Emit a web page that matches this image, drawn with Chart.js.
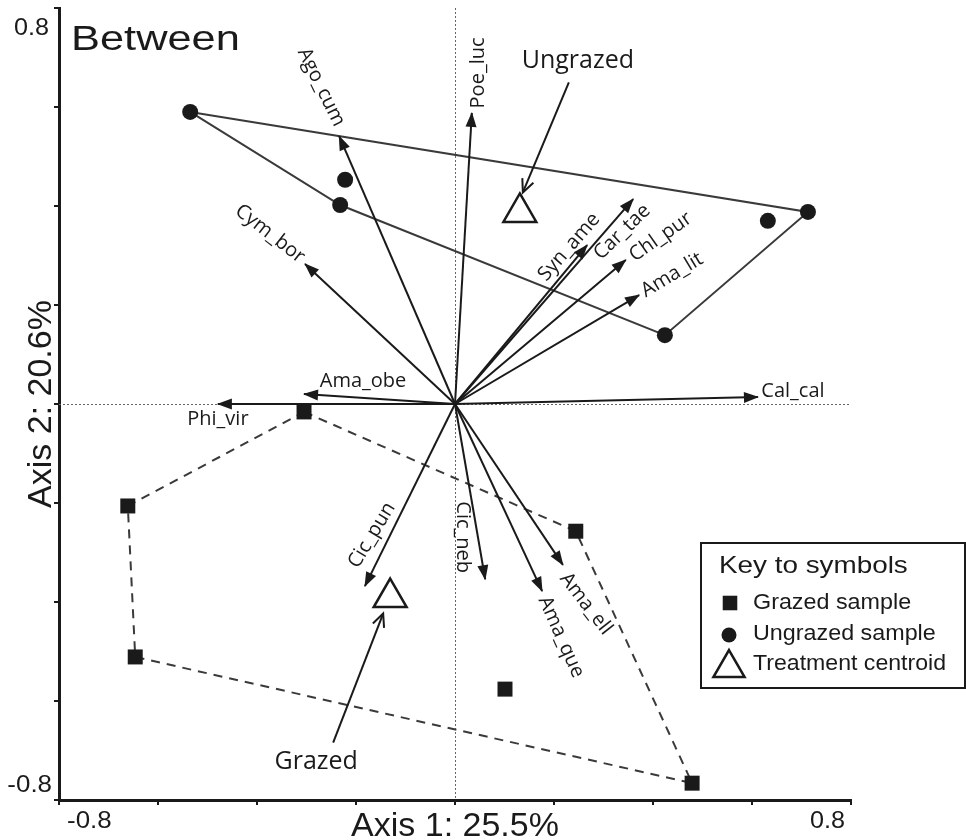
<!DOCTYPE html>
<html><head><meta charset="utf-8">
<script src="https://cdn.jsdelivr.net/npm/chart.js@4.4.1/dist/chart.umd.min.js"></script>
<style>html,body{margin:0;padding:0;background:#fff;}canvas{display:block;}</style>
</head><body>
<canvas id="c" width="966" height="840"></canvas>
<script>
// ---------------- data ----------------
const grazedX = [-0.305, -0.661, -0.646, 0.244, 0.101, 0.479];
const grazedY = [-0.016, -0.206, -0.511, -0.257, -0.576, -0.766];
const grazedHull = [0, 3, 5, 2, 1, 0];

const ungrazedX = [-0.535, -0.222, -0.232, 0.424, 0.713, 0.632];
const ungrazedY = [0.590, 0.453, 0.402, 0.139, 0.388, 0.370];
const ungrazedHull = [0, 4, 3, 2, 0];

const centroidNames = ['Ungrazed', 'Grazed'];
const centroidX = [0.131, -0.131];
const centroidY = [0.387, -0.391];

const species = ['Poe_luc','Ago_cum','Cym_bor','Syn_ame','Car_tae','Chl_pur','Ama_lit','Cal_cal','Ama_obe','Phi_vir','Cic_pun','Cic_neb','Ama_que','Ama_ell'];
const speciesX = [0.034, -0.234, -0.303, 0.267, 0.360, 0.345, 0.372, 0.612, -0.305, -0.479, -0.182, 0.061, 0.176, 0.218];
const speciesY = [0.588, 0.541, 0.283, 0.321, 0.414, 0.291, 0.220, 0.014, 0.020, 0.000, -0.368, -0.354, -0.378, -0.325];

const axisMin = -0.8, axisMax = 0.8, axisStep = 0.2;
const tickLabels = ['-0.8', '0.8'];
const xTitle = 'Axis 1: 25.5%';
const yTitle = 'Axis 2: 20.6%';
const panelTitle = 'Between';
const legendTitle = 'Key to symbols';
const legendItems = ['Grazed sample', 'Ungrazed sample', 'Treatment centroid'];

// ---------------- layout / style (pixels) ----------------
const AREA = {left: 59, top: 8, right: 851, bottom: 800};
const labelLayout = {
  Poe_luc:{dx:6,dy:-40,rot:-90}, Ago_cum:{dx:-18,dy:-49,rot:64}, Cym_bor:{dx:-35,dy:-30,rot:38},
  Syn_ame:{dx:-18,dy:2,rot:-49}, Car_tae:{dx:-11,dy:33,rot:-44}, Chl_pur:{dx:35,dy:-23,rot:-35},
  Ama_lit:{dx:33,dy:-20,rot:-31}, Cal_cal:{dx:35,dy:-6,rot:0}, Ama_obe:{dx:59,dy:-13,rot:0},
  Phi_vir:{dx:0,dy:15,rot:0}, Cic_pun:{dx:7,dy:-51,rot:-59}, Cic_neb:{dx:-22,dy:-42,rot:90},
  Ama_que:{dx:19,dy:46,rot:66}, Ama_ell:{dx:23,dy:39,rot:52}
};
const pointerLayout = [
  {tip:[3,-20], tail:[49,-130], text:[58,-152]},
  {tip:[-7,16], tail:[-57,145], text:[-74,164]}
];
const INK = '#1a1a1a';
const SANS = '"Liberation Sans", Arial, sans-serif';
const MYR = '"Open Sans", "Noto Sans", sans-serif';

function txt(ctx, s, x, y, font, o) {
  o = o || {};
  ctx.save();
  ctx.translate(x, y);
  if (o.rot) ctx.rotate(o.rot * Math.PI / 180);
  ctx.scale(o.sx || 1, 1);
  ctx.font = font;
  ctx.fillStyle = INK;
  ctx.textAlign = o.align || 'left';
  ctx.textBaseline = o.base || 'alphabetic';
  ctx.fillText(s, 0, 0);
  ctx.restore();
}

const pts = (xs, ys, idx) => (idx || xs.map((_, i) => i)).map(i => ({x: xs[i], y: ys[i]}));

const datasets = [];
datasets.push({label: 'Grazed sample', data: pts(grazedX, grazedY), showLine: false,
  pointStyle: 'rect', pointRadius: 10.6, backgroundColor: INK, borderColor: INK, borderWidth: 0, order: 0});
datasets.push({label: 'Ungrazed sample', data: pts(ungrazedX, ungrazedY), showLine: false,
  pointStyle: 'circle', pointRadius: 8, backgroundColor: INK, borderColor: INK, borderWidth: 0, order: 0});
datasets.push({label: 'Treatment centroid', data: pts(centroidX, centroidY), showLine: false,
  pointStyle: 'triangle', pointRadius: 19, backgroundColor: '#fff', borderColor: INK, borderWidth: 2.5, order: 0});
species.forEach((s, i) => {
  datasets.push({label: s, data: [{x: 0, y: 0}, {x: speciesX[i], y: speciesY[i]}], showLine: true,
    pointRadius: 0, borderColor: INK, borderWidth: 2, fill: false, order: 1, isArrow: true});
});
datasets.push({label: 'Ungrazed hull', data: pts(ungrazedX, ungrazedY, ungrazedHull), showLine: true,
  pointRadius: 0, borderColor: '#3a3a3a', borderWidth: 2, fill: false, order: 2});
datasets.push({label: 'Grazed hull', data: pts(grazedX, grazedY, grazedHull), showLine: true,
  pointRadius: 0, borderColor: '#3a3a3a', borderWidth: 2, borderDash: [9, 7], fill: false, order: 2});

const decor = {
  id: 'decor',
  beforeDatasetsDraw(chart) {
    const ctx = chart.ctx, xs = chart.scales.x, ys = chart.scales.y, a = chart.chartArea;
    ctx.save();
    ctx.strokeStyle = '#666'; ctx.lineWidth = 1; ctx.setLineDash([2, 2]);
    const x0 = Math.round(xs.getPixelForValue(0)) + 0.5, y0 = Math.round(ys.getPixelForValue(0)) + 0.5;
    ctx.beginPath(); ctx.moveTo(x0, a.top); ctx.lineTo(x0, a.bottom); ctx.stroke();
    ctx.beginPath(); ctx.moveTo(a.left, y0); ctx.lineTo(a.right, y0); ctx.stroke();
    ctx.restore();
  },
  afterDatasetsDraw(chart) {
    const ctx = chart.ctx;
    chart.data.datasets.forEach((d, i) => {
      if (!d.isArrow) return;
      const m = chart.getDatasetMeta(i);
      const p0 = m.data[0], p1 = m.data[1];
      const ang = Math.atan2(p1.y - p0.y, p1.x - p0.x);
      ctx.save();
      ctx.translate(p1.x, p1.y); ctx.rotate(ang);
      ctx.fillStyle = INK;
      ctx.beginPath(); ctx.moveTo(1, 0); ctx.lineTo(-14, -5.5); ctx.lineTo(-14, 5.5); ctx.closePath(); ctx.fill();
      ctx.restore();
      const L = labelLayout[d.label];
      txt(ctx, d.label, p1.x + L.dx, p1.y + L.dy, '20px ' + MYR, {align: 'center', base: 'middle', rot: L.rot});
    });
    const cm = chart.getDatasetMeta(2);
    centroidNames.forEach((n, i) => {
      const c = cm.data[i], P = pointerLayout[i];
      const tx = c.x + P.tip[0], ty = c.y + P.tip[1], sx = c.x + P.tail[0], sy = c.y + P.tail[1];
      ctx.save();
      ctx.strokeStyle = INK; ctx.lineWidth = 2;
      ctx.beginPath(); ctx.moveTo(sx, sy); ctx.lineTo(tx, ty); ctx.stroke();
      const ang = Math.atan2(ty - sy, tx - sx);
      ctx.translate(tx, ty); ctx.rotate(ang);
      ctx.beginPath(); ctx.moveTo(-13, -6); ctx.lineTo(0, 0); ctx.lineTo(-13, 6); ctx.stroke();
      ctx.restore();
      txt(ctx, n, c.x + P.text[0], c.y + P.text[1], '25px ' + MYR, {align: 'center', base: 'middle'});
    });
  },
  afterDraw(chart) {
    const ctx = chart.ctx, xs = chart.scales.x, ys = chart.scales.y, a = chart.chartArea;
    txt(ctx, panelTitle, a.left + 12, a.top + 42, '35px ' + SANS, {sx: 1.24});
    const tf = '24px ' + SANS;
    txt(ctx, tickLabels[1], a.left - 10, ys.getPixelForValue(axisMax) + 27, tf, {align: 'right', sx: 1.05});
    txt(ctx, tickLabels[0], a.left - 7, ys.getPixelForValue(axisMin) - 8, tf, {align: 'right', sx: 1.08});
    txt(ctx, tickLabels[0], xs.getPixelForValue(axisMin) + 8, a.bottom + 28, tf, {align: 'left', sx: 1.08});
    txt(ctx, tickLabels[1], xs.getPixelForValue(axisMax) - 6, a.bottom + 28, tf, {align: 'right', sx: 1.05});
    txt(ctx, xTitle, (a.left + a.right) / 2, a.bottom + 36, '34px ' + SANS, {align: 'center'});
    txt(ctx, yTitle, a.left - 8, (a.top + a.bottom) / 2, '34px ' + SANS, {align: 'center', rot: -90});
    ctx.save();
    ctx.strokeStyle = INK; ctx.lineWidth = 2;
    ctx.strokeRect(701, 543, 264, 145);
    ctx.restore();
    txt(ctx, legendTitle, 719, 573, '24px ' + SANS, {sx: 1.16});
    const H = Chart.helpers;
    ctx.save();
    ctx.fillStyle = INK; ctx.strokeStyle = INK;
    H.drawPoint(ctx, {pointStyle: 'rect', radius: 10.3, borderWidth: 0}, 730, 603);
    ctx.restore();
    ctx.save();
    ctx.fillStyle = INK;
    ctx.beginPath(); ctx.arc(729, 635, 7.5, 0, Math.PI * 2); ctx.fill();
    ctx.restore();
    ctx.save();
    ctx.fillStyle = '#fff'; ctx.strokeStyle = INK; ctx.lineWidth = 2.5;
    H.drawPoint(ctx, {pointStyle: 'triangle', radius: 18, borderWidth: 2.5}, 729, 668);
    ctx.restore();
    const lf = '22px ' + SANS;
    txt(ctx, legendItems[0], 753, 609, lf, {sx: 1.06});
    txt(ctx, legendItems[1], 753, 640, lf, {sx: 1.06});
    txt(ctx, legendItems[2], 753, 670, lf, {sx: 1.05});
  }
};

const zeroPad = s => { s.paddingTop = 0; s.paddingBottom = 0; s.paddingLeft = 0; s.paddingRight = 0; };
const axisCommon = {
  type: 'linear', min: axisMin, max: axisMax,
  ticks: {display: false, stepSize: axisStep},
  grid: {display: true, drawOnChartArea: false, drawTicks: true, tickLength: 5, color: INK, lineWidth: 2},
  border: {display: true, color: INK, width: 3},
  title: {display: false},
  afterFit: zeroPad
};

const pad = {left: 54, right: 115, top: 8, bottom: 35};
const chart = new Chart(document.getElementById('c'), {
  type: 'scatter',
  data: {datasets},
  options: {
    responsive: false, animation: false, events: [],
    layout: {padding: pad, autoPadding: false},
    plugins: {legend: {display: false}, tooltip: {enabled: false}},
    scales: {
      x: Object.assign({}, axisCommon, {position: 'bottom'}),
      y: Object.assign({}, axisCommon, {position: 'left'})
    }
  },
  plugins: [decor]
});
// correct any residual layout offset so the plot area sits where the reference has it
for (let k = 0; k < 3; k++) {
  const a = chart.chartArea;
  const d = {left: AREA.left - a.left, top: AREA.top - a.top, right: a.right - AREA.right, bottom: a.bottom - AREA.bottom};
  if (Math.abs(d.left) + Math.abs(d.top) + Math.abs(d.right) + Math.abs(d.bottom) < 0.5) break;
  pad.left += d.left; pad.top += d.top; pad.right += d.right; pad.bottom += d.bottom;
  chart.options.layout.padding = Object.assign({}, pad);
  chart.update('none');
}
</script>
</body></html>
